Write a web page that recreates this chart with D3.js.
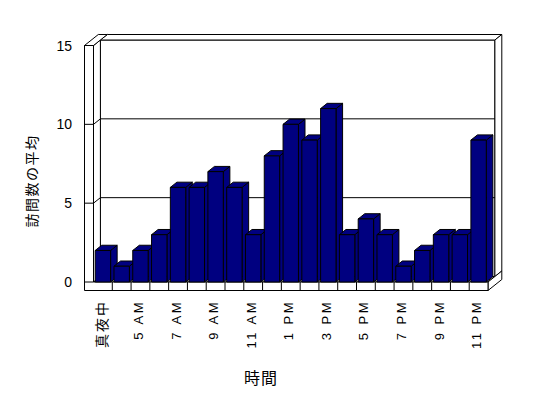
<!DOCTYPE html>
<html>
<head>
<meta charset="utf-8">
<script src="https://cdn.jsdelivr.net/npm/d3@7"></script>
<style>
  body { margin: 0; background: #fff; }
  svg { display: block; }
  .wall { fill: #fff; stroke: #000; stroke-width: 1; }
  .grid { stroke: #000; stroke-width: 1; fill: none; }
  .bar { fill: #000080; stroke: #000; stroke-width: 1; stroke-linejoin: miter; }
  .ytick { font-family: "Liberation Sans", Arial, sans-serif; font-size: 14px; }
  .xtick { font-family: "Liberation Sans", Arial, sans-serif; font-size: 13px; letter-spacing: 2.5px; }
  .cjk { font-family: "Noto Sans CJK JP", sans-serif; fill: #000; }
</style>
</head>
<body>
<svg width="548" height="398"></svg>
<script>
// hours shown on the category axis
var categories = ["真夜中", "4 AM", "5 AM", "6 AM", "7 AM", "8 AM", "9 AM", "10 AM", "11 AM",
                  "12 PM", "1 PM", "2 PM", "3 PM", "4 PM", "5 PM", "6 PM", "7 PM", "8 PM",
                  "9 PM", "10 PM", "11 PM"];
// average visits per hour
var visits = [2, 1, 2, 3, 6, 6, 7, 6, 3, 8, 10, 9, 11, 3, 4, 3, 1, 2, 3, 3, 9];
var yTicks = [0, 5, 10, 15];
var gridValues = [5, 10];

var svg = d3.select("svg");

var x0 = 93.5, x1 = 488, xw = 84.5;
var y0 = 282, yTop = 45.5, yb = 290.5;
var dx = 6.9, dy = -5.5;

var xSlot = d3.scaleBand().domain(categories).range([x0, x1]);
var xBar = d3.scaleBand().domain(categories).range([x0, x1])
        .paddingInner(0.18).paddingOuter(0.09);
var y = d3.scaleLinear().domain([0, 15]).range([y0, yTop]);

function P(px, py, z) { return [px + z * dx, py + z * dy]; }
function poly(pts, cls) {
    svg.append("polygon")
        .attr("class", cls)
        .attr("points", pts.map(function(p) { return p.join(","); }).join(" "));
}
function line(a, b) {
    svg.append("line").attr("class", "grid")
        .attr("x1", a[0]).attr("y1", a[1]).attr("x2", b[0]).attr("y2", b[1]);
}

// back wall
poly([P(x0, yTop, 1), P(x1, yTop, 1), P(x1, y0, 1), P(x0, y0, 1)], "wall");
poly([P(x0, yTop, 1), P(x1, yTop, 1), P(x1, yTop, 2), P(x0, yTop, 2)], "wall");
poly([P(x1, yTop, 1), P(x1, yTop, 2), P(x1, y0, 2), P(x1, y0, 1)], "wall");
gridValues.forEach(function(v) {
    line(P(x0, y(v), 1), P(x1, y(v), 1));
});

// floor
poly([P(x0, y0, 0), P(x1, y0, 0), P(x1, y0, 1), P(x0, y0, 1)], "wall");
poly([P(x1, y0, 0), P(x1, y0, 2), P(x1, yb, 2), P(x1, yb, 0)], "wall");

// left wall
poly([P(x0, yTop, 0), P(x0, yTop, 1), P(x0, y0, 1), P(x0, y0, 0)], "wall");
poly([P(xw, yTop, 0), P(x0, yTop, 0), P(x0, yTop, 2), P(xw, yTop, 2)], "wall");
gridValues.forEach(function(v) {
    line(P(x0, y(v), 0), P(x0, y(v), 1));
});

// front faces of wall and floor
poly([[xw, yTop], [x0, yTop], [x0, y0], [x1, y0], [x1, yb], [xw, yb]], "wall");
yTicks.forEach(function(v) {
    line([xw, y(v)], [x0, y(v)]);
});
categories.forEach(function(c, i) {
    if (i == 0) return;
    var xt = xSlot(c);
    line([xt, y0], [xt, yb]);
});

// bars
var zf = 0, zb = 0.95;
categories.forEach(function(c, i) {
    var bx0 = xBar(c), bx1 = bx0 + xBar.bandwidth();
    var by = y(visits[i]);
    poly([P(bx1, by, zf), P(bx1, by, zb), P(bx1, y0, zb), P(bx1, y0, zf)], "bar");
    poly([P(bx0, by, zf), P(bx1, by, zf), P(bx1, by, zb), P(bx0, by, zb)], "bar");
    poly([P(bx0, by, zf), P(bx1, by, zf), P(bx1, y0, zf), P(bx0, y0, zf)], "bar");
});

// value labels
svg.selectAll(".ytick")
    .data(yTicks)
    .enter().append("text")
    .attr("class", "ytick")
    .attr("x", 72)
    .attr("y", function(d) { return y(d); })
    .attr("dy", "0.36em")
    .attr("text-anchor", "end")
    .text(function(d) { return d; });

// category labels, every other hour
svg.selectAll(".xtick")
    .data(categories.filter(function(d, i) { return i % 2 == 0; }))
    .enter().append("text")
    .attr("class", function(d, i) { return i == 0 ? "xtick cjk" : "xtick"; })
    .style("font-size", function(d, i) { return i == 0 ? "14px" : null; })
    .style("letter-spacing", function(d, i) { return i == 0 ? "2px" : null; })
    .attr("text-anchor", "end")
    .attr("dominant-baseline", "central")
    .attr("transform", function(d) {
        return "translate(" + (xSlot(d) + xSlot.bandwidth() / 2 - 2) + ",300) rotate(-90)";
    })
    .text(function(d) { return d; });

// axis titles
svg.append("text")
    .attr("class", "cjk")
    .attr("transform", "translate(31,181) rotate(-90)")
    .attr("text-anchor", "middle")
    .attr("dominant-baseline", "central")
    .style("font-size", "14px")
    .style("letter-spacing", "1.5px")
    .text("訪問数の平均");

svg.append("text")
    .attr("class", "cjk")
    .attr("x", 261)
    .attr("y", 377)
    .attr("text-anchor", "middle")
    .attr("dominant-baseline", "central")
    .style("font-size", "16px")
    .style("letter-spacing", "1px")
    .text("時間");
</script>
</body>
</html>
